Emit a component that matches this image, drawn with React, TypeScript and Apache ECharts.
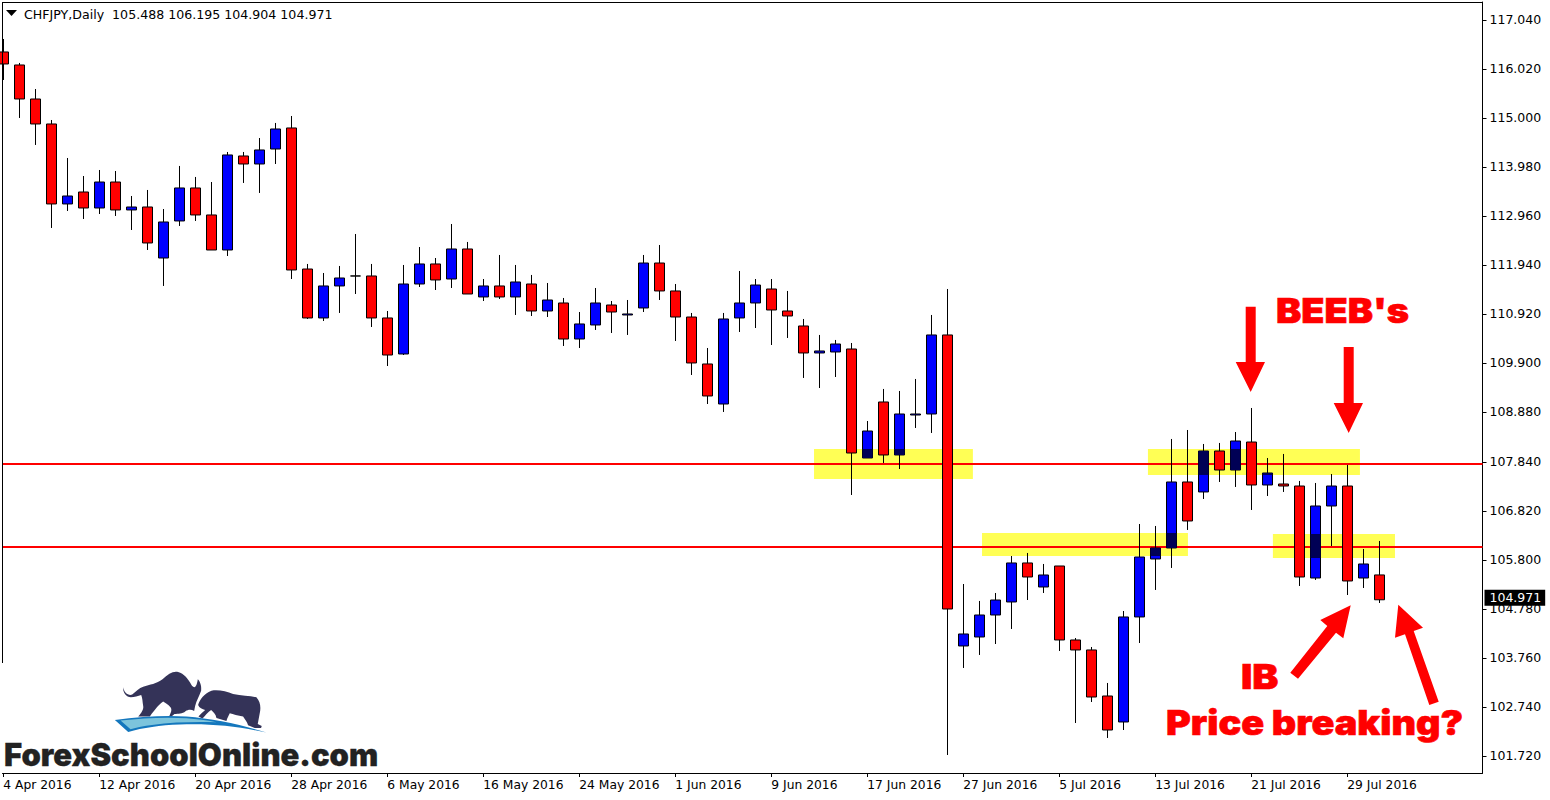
import React, { useEffect, useRef } from "react";
import * as echarts from "echarts";

// [open, high, low, close] of each daily candle
const candles: number[][] = [
  [116.374,116.644,115.791,116.124],[116.103,116.145,115.000,115.395],[115.395,115.603,114.438,114.875],[114.875,114.958,112.710,113.210],
  [113.210,114.167,113.064,113.376],[113.459,113.792,112.897,113.126],[113.126,113.917,113.001,113.667],[113.667,113.896,112.960,113.085],
  [113.085,113.376,112.668,113.147],[113.147,113.501,112.252,112.398],[112.085,113.105,111.503,112.835],[112.856,114.001,112.752,113.543],
  [113.543,113.772,112.856,112.981],[112.981,113.667,112.252,112.252],[112.252,114.292,112.127,114.230],[114.209,114.292,113.647,114.042],
  [114.042,114.583,113.439,114.334],[114.354,114.896,114.042,114.771],[114.792,115.041,111.648,111.836],[111.856,111.961,110.816,110.837],
  [110.837,111.773,110.774,111.503],[111.503,111.919,110.941,111.669],[111.711,112.585,111.336,111.711],[111.711,111.961,110.649,110.837],
  [110.837,110.982,109.837,110.066],[110.087,111.940,110.066,111.544],[111.544,112.314,111.482,111.961],[111.961,112.085,111.419,111.628],
  [111.648,112.793,111.461,112.273],[112.273,112.419,111.336,111.336],[111.274,111.648,111.190,111.503],[111.503,112.148,111.232,111.274],
  [111.274,111.940,110.899,111.586],[111.544,111.732,110.878,110.982],[110.982,111.565,110.857,111.211],[111.149,111.253,110.254,110.399],
  [110.399,110.961,110.212,110.712],[110.691,111.461,110.587,111.149],[111.107,111.190,110.524,110.961],[110.899,111.211,110.483,110.920],
  [111.045,112.148,110.961,111.981],[111.981,112.356,111.211,111.399],[111.399,111.544,110.358,110.857],[110.857,110.941,109.650,109.900],
  [109.879,110.212,109.046,109.213],[109.046,110.941,108.880,110.816],[110.837,111.815,110.545,111.149],[111.149,111.648,110.628,111.523],
  [111.440,111.648,110.274,111.003],[110.982,111.399,110.420,110.878],[110.670,110.816,109.588,110.108],[110.108,110.483,109.379,110.150],
  [110.129,110.379,109.608,110.295],[110.191,110.316,107.152,108.026],[107.922,108.692,107.922,108.484],[109.088,109.359,107.818,107.985],
  [107.985,109.317,107.693,108.838],[108.817,109.567,108.547,108.838],[108.838,110.899,108.443,110.483],[110.483,111.440,101.740,104.779],
  [104.009,105.299,103.551,104.259],[104.196,104.946,103.822,104.654],[104.654,105.112,104.050,104.966],[104.925,105.882,104.363,105.737],
  [105.737,105.945,104.966,105.445],[105.237,105.716,105.112,105.487],[105.674,105.674,103.905,104.134],[104.134,104.175,102.406,103.926],
  [103.926,103.988,102.843,102.947],[102.968,103.239,102.094,102.260],[102.427,104.737,102.260,104.613],[104.613,106.548,104.071,105.861],
  [105.820,106.507,105.175,106.049],[106.049,108.318,105.633,107.423],[107.423,108.505,106.424,106.611],[107.215,108.214,107.069,108.068],
  [108.068,108.235,107.423,107.672],[107.672,108.463,107.319,108.276],[108.255,108.963,106.840,107.360],[107.360,107.922,107.131,107.610],
  [107.381,108.006,107.215,107.339],[107.339,107.444,105.258,105.445],[105.424,107.402,105.383,106.923],[106.923,107.589,106.090,107.339],
  [107.339,107.777,105.070,105.362],[105.424,106.028,105.216,105.716],[105.488,106.195,104.904,104.971],
];

const tickIndices: number[] = [0,6,12,18,24,30,36,42,48,54,60,66,72,78,84];
const tickDates: string[] = ["4 Apr 2016","12 Apr 2016","20 Apr 2016","28 Apr 2016","6 May 2016","16 May 2016","24 May 2016","1 Jun 2016","9 Jun 2016","17 Jun 2016","27 Jun 2016","5 Jul 2016","13 Jul 2016","21 Jul 2016","29 Jul 2016"];
const priceTicks: number[] = [117.04,116.02,115,113.98,112.96,111.94,110.92,109.9,108.88,107.84,106.82,105.8,104.78,103.76,102.74,101.72];

const levels: number[] = [107.797, 106.070];
// from bar, to bar, low price, high price
const zones: number[][] = [
  [50.67,60.6,107.485,108.110],
  [61.17,74.04,105.882,106.361],
  [71.54,84.79,107.569,108.110],
  [79.35,86.98,105.840,106.340],
];
const lastClose = 104.971;

const BULL = "M370 112 C372 128 385 138 397 134 C408 124 418 114 430 110 C450 104 470 102 488 88 C505 72 520 62 535 66 C552 70 566 88 575 105 C583 116 590 115 594 88 C600 94 606 106 604 122 C598 140 590 150 586 168 L583 183 C575 178 565 178 557 184 C548 192 535 192 524 192 L515 200 L508 200 C512 190 518 180 512 172 C505 164 495 158 490 155 C480 162 465 178 450 200 L415 200 C425 188 432 178 430 168 C428 155 428 145 424 135 C415 137 403 142 393 142 C380 142 368 128 370 112 Z";
const BEAR = "M595 165 C600 148 612 132 635 122 C655 118 680 124 700 132 C725 138 750 136 770 142 C782 155 784 172 780 190 L774 222 L786 228 L784 234 L765 234 L745 226 C742 215 736 210 730 200 C715 198 700 192 690 190 C686 198 682 206 680 213 L650 204 C648 192 640 186 634 180 C625 186 615 198 608 206 L596 200 C602 192 610 186 616 180 C608 178 598 174 595 165 Z";
const SWOOSH = "M345 210 C420 200 500 196 560 200 C640 206 730 226 800 248 C720 230 630 220 540 224 C480 226 430 234 385 246 Z";
const SWOOSH_IN = "M362 212 C430 204 500 201 560 205 C590 207 620 211 650 217 C610 216 570 216 530 218 C480 221 430 228 392 238 Z";
echarts.graphic.registerShape("fsoBull", echarts.graphic.extendPath(BULL, {}) as any);
echarts.graphic.registerShape("fsoBear", echarts.graphic.extendPath(BEAR, {}) as any);
echarts.graphic.registerShape("fsoSwoosh", echarts.graphic.extendPath(SWOOSH, {}) as any);
echarts.graphic.registerShape("fsoSwooshIn", echarts.graphic.extendPath(SWOOSH_IN, {}) as any);

const UI_FONT = '"DejaVu Sans"';

const arrow = (points: number[][]) => ({ type: "polygon", z: 50, shape: { points }, style: { fill: "#ff0000" } });
const logoShape = (type: string, fill: string) => ({ type, z: 40, x: 0, y: 650, scaleX: 1 / 3, scaleY: 1 / 3, style: { fill } });
const heavyText = (text: string, x: number, y: number, size: number, stretch: number) => ({
  type: "text", z: 50, x, y, scaleX: stretch,
  style: { text, fill: "#ff0000", font: `900 ${size}px Inter`, textAlign: "left", textVerticalAlign: "middle", stroke: "#ff0000", lineWidth: 0.6 },
});

export default function App() {
  const ref = useRef<HTMLDivElement>(null);
  useEffect(() => {
    document.body.style.margin = "0";
    const chart = echarts.init(ref.current!, undefined, { renderer: "svg" });
    const series = candles.map((c, i) => [i, c[0], c[3], c[2], c[1]]);

    // bullish bodies crossing a zone darken, as the zone multiplies over the bar
    const overlaps: number[][] = [];
    candles.forEach((c, i) => {
      if (c[3] <= c[0]) return;
      zones.forEach((z) => {
        if (i < z[0] || i > z[1]) return;
        const lo = Math.max(c[0], z[2]);
        const hi = Math.min(c[3], z[3]);
        if (hi > lo) overlaps.push([i, lo, hi]);
      });
    });

    chart.setOption({
      animation: false,
      backgroundColor: "#ffffff",
      grid: { left: 2.5, top: 2, width: 1480, height: 771, containLabel: false },
      xAxis: {
        type: "value", min: -0.05, max: 92.45, splitLine: { show: false },
        axisLine: { show: true, onZero: false, lineStyle: { color: "#000", width: 1 } },
        axisTick: { show: true, customValues: tickIndices, length: 4, lineStyle: { color: "#000" } },
        axisLabel: {
          customValues: tickIndices, color: "#000", fontFamily: UI_FONT, fontSize: 12.3, margin: 6, align: "left",
          formatter: (v: number) => tickDates[tickIndices.indexOf(Math.round(v))] ?? "",
        },
      },
      yAxis: {
        type: "value", position: "right", min: 101.365, max: 117.414, scale: true, splitLine: { show: false },
        axisLine: { show: true, onZero: false, lineStyle: { color: "#000", width: 1 } },
        axisTick: { show: true, customValues: priceTicks, length: 4, lineStyle: { color: "#000" } },
        axisLabel: { customValues: priceTicks, color: "#000", fontFamily: UI_FONT, fontSize: 12.5, margin: 7, formatter: (v: number) => v.toFixed(3) },
      },
      series: [
        {
          type: "candlestick", name: "CHFJPY", data: series, barWidth: 10, z: 3,
          encode: { x: 0, y: [1, 2, 3, 4] },
          itemStyle: { color: "#0000ff", color0: "#ff0000", borderColor: "#000", borderColor0: "#000", borderColorDoji: "#000", borderWidth: 1 },
          markArea: {
            silent: true, z: 1, itemStyle: { color: "#ffff55" },
            data: zones.map((z) => [{ coord: [z[0], z[3]] }, { coord: [z[1], z[2]] }]),
          },
          markLine: {
            silent: true, z: 2, symbol: "none", label: { show: false },
            lineStyle: { color: "#ff0000", width: 2, type: "solid" },
            data: [
              ...levels.map((v) => ({ yAxis: v })),
              {
                yAxis: lastClose,
                lineStyle: { color: "rgba(0,0,0,0)", width: 0 },
                label: {
                  show: true, position: "end", distance: 2, offset: [0, -2], color: "#fff", backgroundColor: "#000", opacity: 1,
                  fontFamily: UI_FONT, fontSize: 12.5, lineHeight: 14, padding: [1, 4, 1, 5], formatter: () => lastClose.toFixed(3),
                },
              },
            ],
          },
        },
        {
          type: "custom", name: "overlap", z: 4, silent: true, data: overlaps, encode: { x: 0, y: [1, 2] },
          renderItem: (_: any, api: any) => {
            const a = api.coord([api.value(0), api.value(2)]);
            const b = api.coord([api.value(0), api.value(1)]);
            return {
              type: "rect",
              shape: { x: Math.round(a[0]) - 4.5, y: a[1], width: 10, height: b[1] - a[1] },
              style: { fill: "#000055" },
            };
          },
        },
      ],
      graphic: [
        { type: "line", z: 30, shape: { x1: 2.5, y1: 2, x2: 2.5, y2: 663 }, style: { stroke: "#000", lineWidth: 1 } },
        { type: "line", z: 30, shape: { x1: 2.5, y1: 2.5, x2: 1482.5, y2: 2.5 }, style: { stroke: "#000", lineWidth: 1 } },
        { type: "polygon", z: 30, shape: { points: [[6, 10], [17, 10], [11.5, 16]] }, style: { fill: "#000" } },
        { type: "text", z: 30, x: 24, y: 14, style: { text: "CHFJPY,Daily  105.488 106.195 104.904 104.971", fill: "#000", font: `12.6px ${UI_FONT}`, textVerticalAlign: "middle" } },
        arrow([[1245.7, 306.7], [1255.7, 306.7], [1255.7, 362], [1265, 362], [1250.7, 392], [1235.7, 362], [1245.7, 362]]),
        arrow([[1343.7, 347], [1353.7, 347], [1353.7, 403], [1363, 403], [1348.7, 433], [1333.7, 403], [1343.7, 403]]),
        arrow([[1290.3, 672.7], [1298, 678.7], [1336, 632.7], [1343.3, 638.3], [1350.7, 605.3], [1320.3, 620], [1327.3, 626]]),
        arrow([[1429.3, 705], [1438.7, 701.7], [1413.7, 631], [1423, 627.7], [1398.3, 604.7], [1395, 637.7], [1405, 634.3]]),
        heavyText("BEEB's", 1276, 311, 34, 1.115),
        heavyText("IB", 1241, 677, 34, 1.15),
        heavyText("Price breaking?", 1166, 723, 34, 1.113),
        logoShape("fsoBull", "#343358"),
        logoShape("fsoBear", "#343358"),
        logoShape("fsoSwoosh", "#1477bd"),
        logoShape("fsoSwooshIn", "#7cc4dc"),
        { type: "text", z: 40, x: 4, y: 754, style: { text: "ForexSchoolOnline.com", fill: "#222222", font: "900 31px Inter", textVerticalAlign: "middle", stroke: "#222222", lineWidth: 0.3 } },
      ],
    });
    return () => chart.dispose();
  }, []);
  return <div ref={ref} style={{ position: "fixed", left: 0, top: 0, width: 1550, height: 800 }} />;
}
